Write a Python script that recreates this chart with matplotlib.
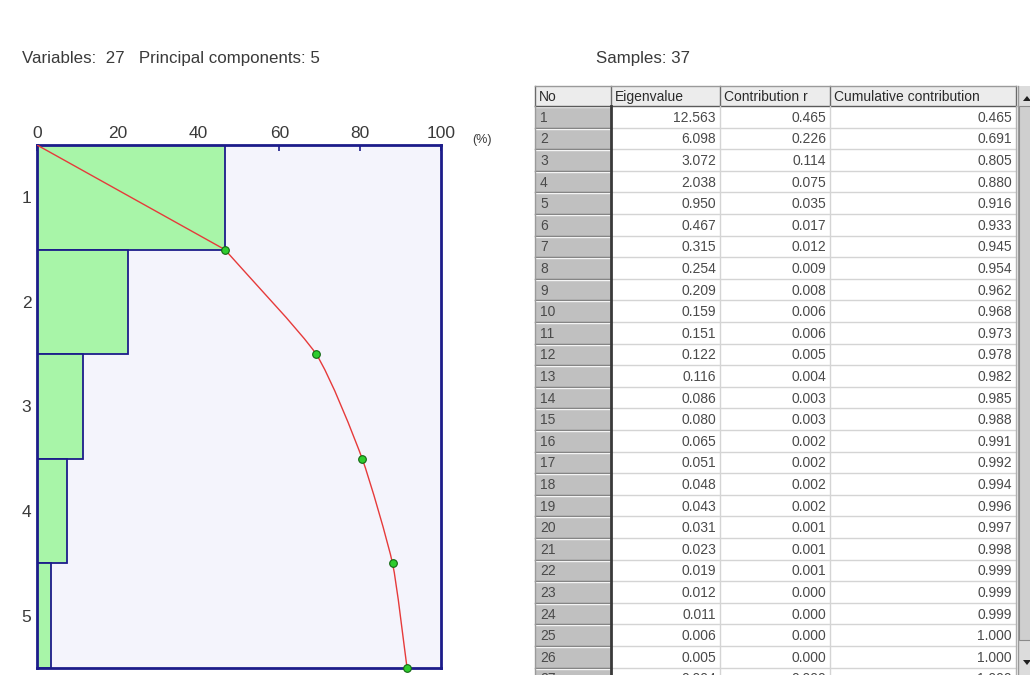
import matplotlib
matplotlib.use("Agg")
import matplotlib.pyplot as plt
from matplotlib.patches import Rectangle, Polygon, PathPatch
from matplotlib.path import Path

plt.rcParams["font.family"] = ["Liberation Sans", "DejaVu Sans"]

# PCA summary
n_variables = 27
n_components = 5
n_samples = 37

component_no = list(range(1, 28))
eigenvalue = [12.563, 6.098, 3.072, 2.038, 0.950, 0.467, 0.315, 0.254, 0.209,
              0.159, 0.151, 0.122, 0.116, 0.086, 0.080, 0.065, 0.051, 0.048,
              0.043, 0.031, 0.023, 0.019, 0.012, 0.011, 0.006, 0.005, 0.004]
contribution = [0.465, 0.226, 0.114, 0.075, 0.035, 0.017, 0.012, 0.009, 0.008,
                0.006, 0.006, 0.005, 0.004, 0.003, 0.003, 0.002, 0.002, 0.002,
                0.002, 0.001, 0.001, 0.001, 0.000, 0.000, 0.000, 0.000, 0.000]
cumulative = [0.465, 0.691, 0.805, 0.880, 0.916, 0.933, 0.945, 0.954, 0.962,
              0.968, 0.973, 0.978, 0.982, 0.985, 0.988, 0.991, 0.992, 0.994,
              0.996, 0.997, 0.998, 0.999, 0.999, 0.999, 1.000, 1.000, 1.000]
headers = ["No", "Eigenvalue", "Contribution r", "Cumulative contribution"]

W, H = 1030, 675
fig = plt.figure(figsize=(W / 100, H / 100), dpi=100)
fig.patch.set_facecolor("white")

# overlay in pixel units for the text and the grid table
ov = fig.add_axes([0, 0, 1, 1])
ov.set_xlim(0, W)
ov.set_ylim(H, 0)
ov.axis("off")

txt_col = "#3a3a3a"
ov.text(22, 58, f"Variables:  {n_variables}   Principal components: {n_components}",
        fontsize=12.2, color=txt_col, va="center")
ov.text(596, 58, f"Samples: {n_samples}", fontsize=12.2, color=txt_col, va="center")

# ---- contribution bars + cumulative curve ----
navy = "#1c1c8a"
ax = fig.add_axes([37 / W, 7 / H, 404 / W, 523 / H])
ax.set_facecolor("#f4f4fc")
ax.set_xlim(0, 100)
ax.set_ylim(n_components, 0)

k = n_components
pct = [c * 100 for c in contribution[:k]]
cum_pct = [c * 100 for c in cumulative[:k]]
ax.barh([i + 0.5 for i in range(k)], pct, height=1.0, left=0,
        color="#a8f5a8", edgecolor=navy, linewidth=1.3, zorder=2)

# straight run from the origin to PC1, then a gently smoothed curve through the rest
pts = list(zip(cum_pct, range(1, k + 1)))
verts = [(0, 0), pts[0]]
codes = [Path.MOVETO, Path.LINETO]
tension = 0.6
tang = []
for i in range(len(pts)):
    a = pts[max(i - 1, 0)]
    b = pts[min(i + 1, len(pts) - 1)]
    s = 0.5 if 0 < i < len(pts) - 1 else 1.0
    tang.append(((b[0] - a[0]) * s * tension, (b[1] - a[1]) * s * tension))
for i in range(len(pts) - 1):
    p0, p1 = pts[i], pts[i + 1]
    c1 = (p0[0] + tang[i][0] / 3, p0[1] + tang[i][1] / 3)
    c2 = (p1[0] - tang[i + 1][0] / 3, p1[1] - tang[i + 1][1] / 3)
    verts += [c1, c2, p1]
    codes += [Path.CURVE4] * 3
ax.add_patch(PathPatch(Path(verts, codes), facecolor="none", edgecolor="#e63a3a",
                       linewidth=1.0, zorder=3))
ax.plot(cum_pct, list(range(1, k + 1)), linestyle="none", marker="o",
        markersize=5.5, markerfacecolor="#2ecc2e", markeredgecolor="#126612",
        markeredgewidth=0.8, zorder=4, clip_on=False)

for s in ax.spines.values():
    s.set_color(navy)
    s.set_linewidth(2)
ax.xaxis.tick_top()
ax.set_xticks([0, 20, 40, 60, 80, 100])
ax.tick_params(axis="x", direction="in", length=4, width=1.2, color=navy,
               labelsize=12.5, labelcolor=txt_col, pad=3)
ax.set_yticks([i + 0.5 for i in range(k)])
ax.set_yticklabels([str(i + 1) for i in range(k)])
ax.tick_params(axis="y", length=0, labelsize=12.5, labelcolor=txt_col, pad=4)
ov.text(472, 140, "(%)", fontsize=9, color=txt_col, va="center")

# ---- eigenvalue table ----
col_x = [535, 611, 720, 830, 1016]
head_top, head_bot = 86, 106
row_h = 21.6

ov.add_patch(Rectangle((col_x[0], head_top), col_x[-1] - col_x[0], head_bot - head_top,
                       facecolor="#ececec", edgecolor="none", zorder=1))
ov.add_patch(Rectangle((col_x[1], head_bot), col_x[-1] - col_x[1], H - head_bot,
                       facecolor="white", edgecolor="none", zorder=1))
ov.add_patch(Rectangle((col_x[0], head_bot), col_x[1] - col_x[0], H - head_bot,
                       facecolor="#c0c0c0", edgecolor="none", zorder=1))

for j, name in enumerate(headers):
    ov.text(col_x[j] + 4, (head_top + head_bot) / 2 + 1, name, fontsize=10,
            color="#2a2a2a", va="center", ha="left", zorder=3)
for x in col_x:
    ov.plot([x, x], [head_top, head_bot], color="#6a6a6a", linewidth=1, zorder=4)
ov.plot([col_x[0], col_x[-1]], [head_top, head_top], color="#9a9a9a", linewidth=1, zorder=4)
ov.plot([col_x[0], col_x[-1]], [head_bot, head_bot], color="#5a5a5a", linewidth=1, zorder=4)

for i, no in enumerate(component_no):
    top = head_bot + i * row_h
    bot = top + row_h
    yc = top + row_h / 2 + 1
    if top > H:
        break
    ov.plot([col_x[1], col_x[-1]], [bot, bot], color="#d4d4d4", linewidth=1, zorder=2)
    ov.plot([col_x[0], col_x[1]], [top + 1, top + 1], color="#f4f4f4", linewidth=1, zorder=2)
    ov.plot([col_x[0], col_x[1]], [bot, bot], color="#6a6a6a", linewidth=1, zorder=2)
    ov.text(col_x[0] + 5, yc, str(no), fontsize=10, color="#4a4a4a",
            va="center", ha="left", zorder=3)
    ov.text(col_x[2] - 4, yc, f"{eigenvalue[i]:.3f}", fontsize=10, color="#4a4a4a",
            va="center", ha="right", zorder=3)
    ov.text(col_x[3] - 4, yc, f"{contribution[i]:.3f}", fontsize=10, color="#4a4a4a",
            va="center", ha="right", zorder=3)
    ov.text(col_x[4] - 4, yc, f"{cumulative[i]:.3f}", fontsize=10, color="#4a4a4a",
            va="center", ha="right", zorder=3)

ov.plot([col_x[0], col_x[0]], [head_bot, H], color="#9a9a9a", linewidth=1, zorder=4)
ov.plot([col_x[1], col_x[1]], [head_bot, H], color="#3a3a3a", linewidth=2, zorder=4)
for x in col_x[2:4]:
    ov.plot([x, x], [head_bot, H], color="#d4d4d4", linewidth=1, zorder=4)
ov.plot([col_x[-1], col_x[-1]], [head_bot, H], color="#b0b0b0", linewidth=1, zorder=4)

# scrollbar
sb_x = 1018
ov.add_patch(Rectangle((sb_x, head_top), W - sb_x, H - head_top,
                       facecolor="#dcdcdc", edgecolor="none", zorder=4))
ov.add_patch(Rectangle((sb_x + 1, head_bot), W - sb_x, 640 - head_bot,
                       facecolor="#cfcfcf", edgecolor="#8a8a8a", linewidth=0.8, zorder=5))
ov.plot([sb_x, sb_x], [head_top, H], color="#9a9a9a", linewidth=1, zorder=6)
ov.add_patch(Polygon([[1023, 101], [1027, 96], [1031, 101]], closed=True,
                     facecolor="#202020", edgecolor="none", zorder=6))
ov.add_patch(Polygon([[1023, 660], [1027, 665], [1031, 660]], closed=True,
                     facecolor="#202020", edgecolor="none", zorder=6))

fig.savefig("out.png", dpi=100)
